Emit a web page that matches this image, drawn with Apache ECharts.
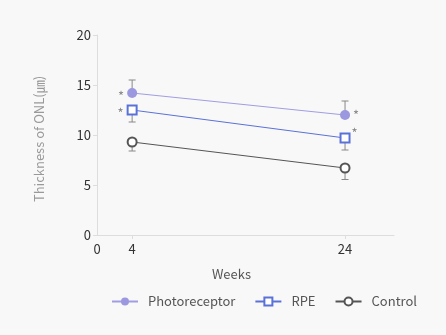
<!DOCTYPE html>
<html><head><meta charset="utf-8">
<script src="https://cdn.jsdelivr.net/npm/echarts@6/dist/echarts.min.js"></script>
<style>html,body{margin:0;padding:0;background:#f8f8f8}#c{width:446px;height:335px}</style>
</head><body><div id="c"></div>
<script>
const weeks = [4, 24];
const xTickLabels = ['0', '4', '24'];
const photoreceptor = [14.2, 12.0];
const photoreceptorErr = [1.3, 1.4];   // drawn upward
const rpe = [12.5, 9.7];
const rpeErr = [1.2, 1.2];             // drawn downward
const control = [9.3, 6.7];
const controlErr = [0.9, 1.15];        // drawn downward
const photoreceptorStar = ['*', '*'];
const rpeStar = ['*', '*'];

const xMin = 0.7, xMax = 28.6;
const font = '"Noto Sans CJK KR", "Noto Sans", sans-serif';

function errSeries(vals, errs, dir) {
  return {
    type: 'custom', silent: true, z: 1,
    data: weeks.map((w, i) => [w, vals[i], vals[i] + dir * errs[i]]),
    renderItem: function (params, api) {
      const x = api.value(0);
      const a = api.coord([x, api.value(1)]);
      const b = api.coord([x, api.value(2)]);
      const w = 3.5;
      const st = { stroke: '#888', lineWidth: 1 };
      return { type: 'group', children: [
        { type: 'line', shape: { x1: a[0], y1: a[1], x2: b[0], y2: b[1] }, style: st },
        { type: 'line', shape: { x1: b[0] - w, y1: b[1], x2: b[0] + w, y2: b[1] }, style: st }
      ]};
    }
  };
}
const starLabels = [
  [{ position: 'left', distance: 3, offset: [0, 3] }, { position: 'right', distance: 3, offset: [0, 0] }],
  [{ position: 'left', distance: 3, offset: [0, 3] }, { position: 'right', distance: 1, offset: [0, -5] }]
];
function pts(vals, stars, si) {
  return weeks.map((w, i) => ({
    value: [w, vals[i]],
    label: stars ? Object.assign({ show: true, formatter: stars[i], color: '#888', fontSize: 13, fontFamily: font }, starLabels[si][i]) : undefined
  }));
}

const chart = echarts.init(document.getElementById('c'));
chart.setOption({
  backgroundColor: '#f8f8f8',
  animation: false,
  textStyle: { fontFamily: font },
  grid: { left: 97, right: 52, top: 35, bottom: 100 },
  legend: {
    top: 290, right: 24, itemWidth: 26, itemHeight: 10, itemGap: 19,
    textStyle: { fontSize: 13, color: '#555', fontFamily: font, padding: [0, 0, 0, 5] },
    data: ['Photoreceptor', 'RPE', 'Control']
  },
  xAxis: {
    type: 'value', min: xMin, max: xMax,
    name: 'Weeks', nameLocation: 'middle', nameGap: 33,
    nameTextStyle: { fontSize: 13, color: '#555', padding: [0, 28, 0, 0] },
    axisLine: { lineStyle: { color: '#ddd' } },
    axisTick: { show: true, customValues: weeks, length: 4, lineStyle: { color: '#ddd' } },
    axisLabel: {
      customValues: [xMin].concat(weeks), fontSize: 13, color: '#333', margin: 8,
      formatter: function (v) { return v === xMin ? xTickLabels[0] : xTickLabels[weeks.indexOf(v) + 1]; }
    },
    splitLine: { show: false }
  },
  yAxis: {
    type: 'value', min: 0, max: 20, interval: 5,
    name: 'Thickness of ONL(㎛)', nameLocation: 'middle', nameGap: 51,
    nameTextStyle: { fontSize: 13, color: '#999', padding: [0, 8, 0, 0] },
    axisLine: { show: true, lineStyle: { color: '#ddd' } },
    axisTick: { show: true, length: 4, lineStyle: { color: '#ddd' } },
    axisLabel: { fontSize: 13, color: '#333', margin: 6 },
    splitLine: { show: false }
  },
  series: [
    errSeries(photoreceptor, photoreceptorErr, 1),
    errSeries(rpe, rpeErr, -1),
    errSeries(control, controlErr, -1),
    {
      name: 'Photoreceptor', type: 'line', z: 3, data: pts(photoreceptor, photoreceptorStar, 0),
      symbol: 'circle', symbolSize: 10, showAllSymbol: true,
      lineStyle: { color: '#a09de3', width: 1 },
      itemStyle: { color: '#9b98e0', borderWidth: 0 }
    },
    {
      name: 'RPE', type: 'line', z: 3, data: pts(rpe, rpeStar, 1),
      symbol: 'rect', symbolSize: 9, showAllSymbol: true,
      lineStyle: { color: '#5a72d8', width: 1 },
      itemStyle: { color: '#ffffff', borderColor: '#5a72d8', borderWidth: 2 }
    },
    {
      name: 'Control', type: 'line', z: 3, data: pts(control, null, 2),
      symbol: 'circle', symbolSize: 9, showAllSymbol: true,
      lineStyle: { color: '#555', width: 1 },
      itemStyle: { color: '#ffffff', borderColor: '#555', borderWidth: 2 }
    }
  ]
});
</script></body></html>
